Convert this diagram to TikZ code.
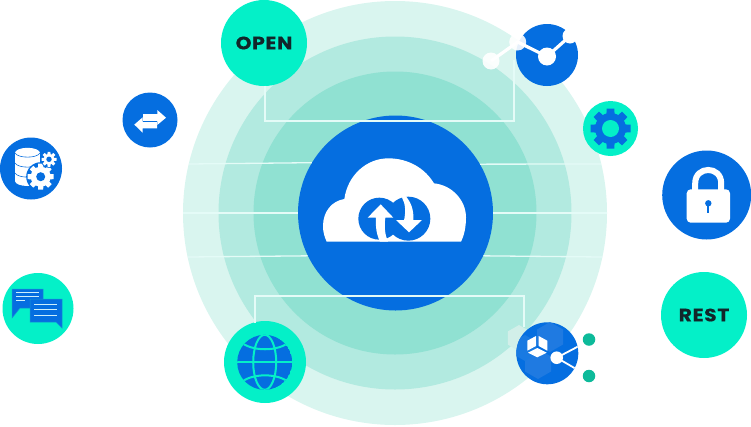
\documentclass[tikz,border=0pt]{standalone}
\usepackage{fontspec}
\setmainfont{Poppins}[FakeStretch=1.12,LetterSpace=4,FakeBold=0.4]
\definecolor{ringa}{HTML}{D9F5EF}
\definecolor{ringb}{HTML}{B2EAE0}
\definecolor{ringc}{HTML}{90E1D2}
\definecolor{blu}{HTML}{056EE0}
\definecolor{teal}{HTML}{04F0C8}
\definecolor{grn}{HTML}{0DBA9A}
\definecolor{hexb}{HTML}{1F7AE1}
\definecolor{faint}{HTML}{D2EFE9}
\definecolor{ink}{HTML}{12262A}
\definecolor{wire}{HTML}{E4FBF7}
\tikzset{
  disc/.style={circle,inner sep=0pt,minimum size=#1},
  bluedisc/.style={disc=#1,fill=blu},
  tealdisc/.style={disc=#1,fill=teal},
  wireline/.style={draw=wire,line width=1.3pt},
  label text/.style={text=ink,font=\bfseries\fontsize{18}{19}\selectfont},
}
\newcommand{\gearicon}[6]{% x y Rout Rbody teeth colour
  \fill[#6] (#1,#2) circle (#4);
  \foreach \ga in {1,...,#5}{
    \fill[#6,rotate around={360/#5*\ga:(#1,#2)}]
      (#1-#3*0.24,#2) -- (#1-#3*0.19,#2-#3) -- (#1+#3*0.19,#2-#3) -- (#1+#3*0.24,#2) -- cycle;
  }
}
\newcommand{\hexicon}[4]{% x y r colour
  \fill[#4] (#1-#3*.866,#2-#3*.5) -- (#1,#2-#3) -- (#1+#3*.866,#2-#3*.5) -- (#1+#3*.866,#2+#3*.5) -- (#1,#2+#3) -- (#1-#3*.866,#2+#3*.5) -- cycle;
}
\begin{document}
\begin{tikzpicture}[x=1pt,y=-1pt]
\useasboundingbox (0,0) rectangle (751,426);
% rings
\node[disc=424pt,fill=ringa] (ra) at (395,213) {};
\node[disc=353pt,fill=ringb] (rb) at (395,213) {};
\node[disc=283pt,fill=ringc] (rc) at (395,213) {};
\node[bluedisc=195pt] (core) at (395.5,213) {};
\hexicon{519}{338}{13}{faint}
% outer nodes
\node[tealdisc=86pt,label text] (open) at (264,43) {OPEN};
\node[tealdisc=86pt,label text] (rest) at (704,315) {REST};
\node[bluedisc=89pt] (lock) at (706.7,195) {};
\node[bluedisc=55pt] (swap) at (150,120) {};
\node[bluedisc=62pt] (db) at (31,168.5) {};
\node[tealdisc=71pt] (chat) at (38,308.5) {};
\node[tealdisc=82pt] (globe) at (265,362) {};
\node[tealdisc=55pt] (gear) at (610.5,128.5) {};
\node[bluedisc=62pt] (net) at (547,55) {};
\node[bluedisc=62pt] (hub) at (547.3,353.3) {};
\node[disc=12.5pt,fill=grn] (da) at (589,339.5) {};
\node[disc=12.5pt,fill=grn] (db2) at (589,376) {};
% wires
\coordinate (la) at (189,164); \coordinate (lb) at (183,213); \coordinate (lc) at (188,257);
\coordinate (rra) at (601,164); \coordinate (rrb) at (607,213); \coordinate (rrc) at (602,257);
\draw[wireline] (la) -- (core.149.8);
\draw[wireline] (lb) -- (core.west);
\draw[wireline] (lc) -- (core.206.8);
\draw[wireline] (rra) -- (core.30.2);
\draw[wireline] (rrb) -- (core.east);
\draw[wireline] (rrc) -- (core.-26.8);
\coordinate (ta) at (265,85.5); \coordinate (tb) at (514,60);
\coordinate (ba) at (255,323); \coordinate (bb) at (524,327);
\draw[wireline] (ta) -- (265,121) -- (514,121) -- (tb);
\draw[wireline] (ba) -- (255,296) -- (524,296) -- (bb);
% cloud icon
\begin{scope}[shift={(300,120)},scale=1/3]
\fill[white] (80,365) .. controls (73,350) and (69,335) .. (69,318)
  .. controls (69,275) and (95,243) .. (133,237)
  .. controls (143,165) and (200,115) .. (265,115)
  .. controls (325,115) and (375,145) .. (402,190)
  .. controls (455,195) and (498,240) .. (498,292)
  .. controls (498,320) and (493,345) .. (483,365) -- cycle;
\fill[blu] (238,296) circle (63);
\fill[blu] (325,296) circle (66);
\fill[white] (203,293) -- (242,253) -- (280,293) -- (256,293)
  .. controls (252,320) and (255,345) .. (264,365) -- (240,365)
  .. controls (230,345) and (226,320) .. (228,293) -- cycle;
\fill[white] (288,300) -- (366,300) -- (327,337) -- cycle;
\fill[white] (312,301) .. controls (318,275) and (316,250) .. (306,233) -- (314,225)
  .. controls (333,245) and (342,270) .. (340,301) -- cycle;
\end{scope}
% swap arrows
\fill[white] (143,114) -- (157.3,114) -- (157.3,110) -- (166,117.7) -- (157.3,125) -- (157.3,121.4) -- (143,121.4) -- cycle;
\fill[white] (157,121.6) -- (157,128.3) -- (142.7,128.3) -- (142.7,132.7) -- (134.3,124.6) -- (142.7,117.3) -- (142.7,121.6) -- cycle;
\draw[blu,line width=.6pt] (143,121.4) -- (157.3,121.4);
% database
\fill[white] (15,153) rectangle (40,181);
\fill[white] (27.5,153) ellipse (12.5 and 5.2);
\fill[white] (27.5,181) ellipse (12.5 and 5);
\draw[blu,line width=.6pt] (15,153) .. controls (18,158.5) and (37,158.5) .. (40,153);
\draw[blu,line width=.6pt] (15,163) .. controls (18,168.5) and (37,168.5) .. (40,163);
\draw[blu,line width=.6pt] (15,173) .. controls (18,178.5) and (37,178.5) .. (40,173);
\fill[blu] (40.7,176.7) circle (14.5);
\gearicon{40.7}{176.7}{13}{10}{8}{white}
\fill[blu] (40.7,176.7) circle (4.5);
\fill[blu] (49,159.3) circle (8.5);
\gearicon{49}{159.3}{7.5}{5.6}{8}{white}
\fill[blu] (49,159.3) circle (2.7);
% chat
\fill[blu,draw=cyan!60!blu,line width=.5pt] (12,289) -- (43,289) -- (43,308) -- (20,308) -- (12,318) -- cycle;
\foreach \ya/\xb in {292.5/39,296.5/39,300/25}{\draw[white!80!cyan,line width=.8pt] (16,\ya) -- (\xb,\ya);}
\fill[blu,draw=cyan!60!blu,line width=.5pt] (30,299) -- (62,299) -- (62,328) -- (56,322) -- (30,322) -- cycle;
\foreach \ya in {304.5,309.5,315}{\draw[white!80!cyan,line width=.8pt] (34,\ya) -- (57,\ya);}
% globe
\begin{scope}
\clip (264.7,362.3) circle (27.5);
\fill[blu] (264.7,362.3) circle (27.5);
\draw[teal,line width=2pt] (237,362.3) -- (292,362.3);
\draw[teal,line width=2pt] (264.7,362.3) ellipse (11.5 and 27.5);
\draw[teal,line width=2pt] (240,341) .. controls (250,352) and (280,352) .. (290,341);
\draw[teal,line width=2pt] (240,383.6) .. controls (250,372.6) and (280,372.6) .. (290,383.6);
\end{scope}
% gear
\gearicon{610.5}{128.5}{20}{15.5}{8}{blu}
\fill[teal] (610.5,128.5) circle (8.5);
% network top
\draw[white,line width=3.2pt] (491,61) -- (517.7,42) -- (547,56.5) -- (570,36);
\fill[white,opacity=.9] (491,61) circle (8.5);
\fill[white,opacity=.9] (517.7,42) circle (8.5);
\fill[white] (547,56.5) circle (9);
\fill[white] (570,36) circle (7.5);
% hub
\begin{scope}
\clip (547.3,353.3) circle (31);
\hexicon{550}{337}{15}{hexb}
\hexicon{538}{364}{15}{hexb}
\hexicon{525}{348}{13}{blu!92!white}
\draw[white,line width=1.8pt] (556.7,357.7) -- (579,346);
\draw[white,line width=1.8pt] (556.7,357.7) -- (577,369.5);
\end{scope}
\fill[white] (556.7,357.7) circle (6.3);
\fill[white] (527.3,340.7) -- (536,336) -- (536,346) -- (527.3,350.7) -- cycle;
\fill[white] (538.7,336) -- (547.3,340.7) -- (547.3,350.7) -- (538.7,346) -- cycle;
\fill[white] (537.3,348) -- (528,352.7) -- (537.3,357.3) -- (546.7,352.7) -- cycle;
% lock
\draw[white,line width=6pt] (695.2,192) -- (695.2,183.3) .. controls (695.2,165.5) and (721.2,165.5) .. (721.2,183.3) -- (721.2,192);
\fill[white,rounded corners=4pt] (686.7,189.3) rectangle (730,222.7);
\fill[blu] (708.3,203.3) circle (3.2);
\fill[blu] (707.2,204) rectangle (709.4,212.7);
\end{tikzpicture}
\end{document}
